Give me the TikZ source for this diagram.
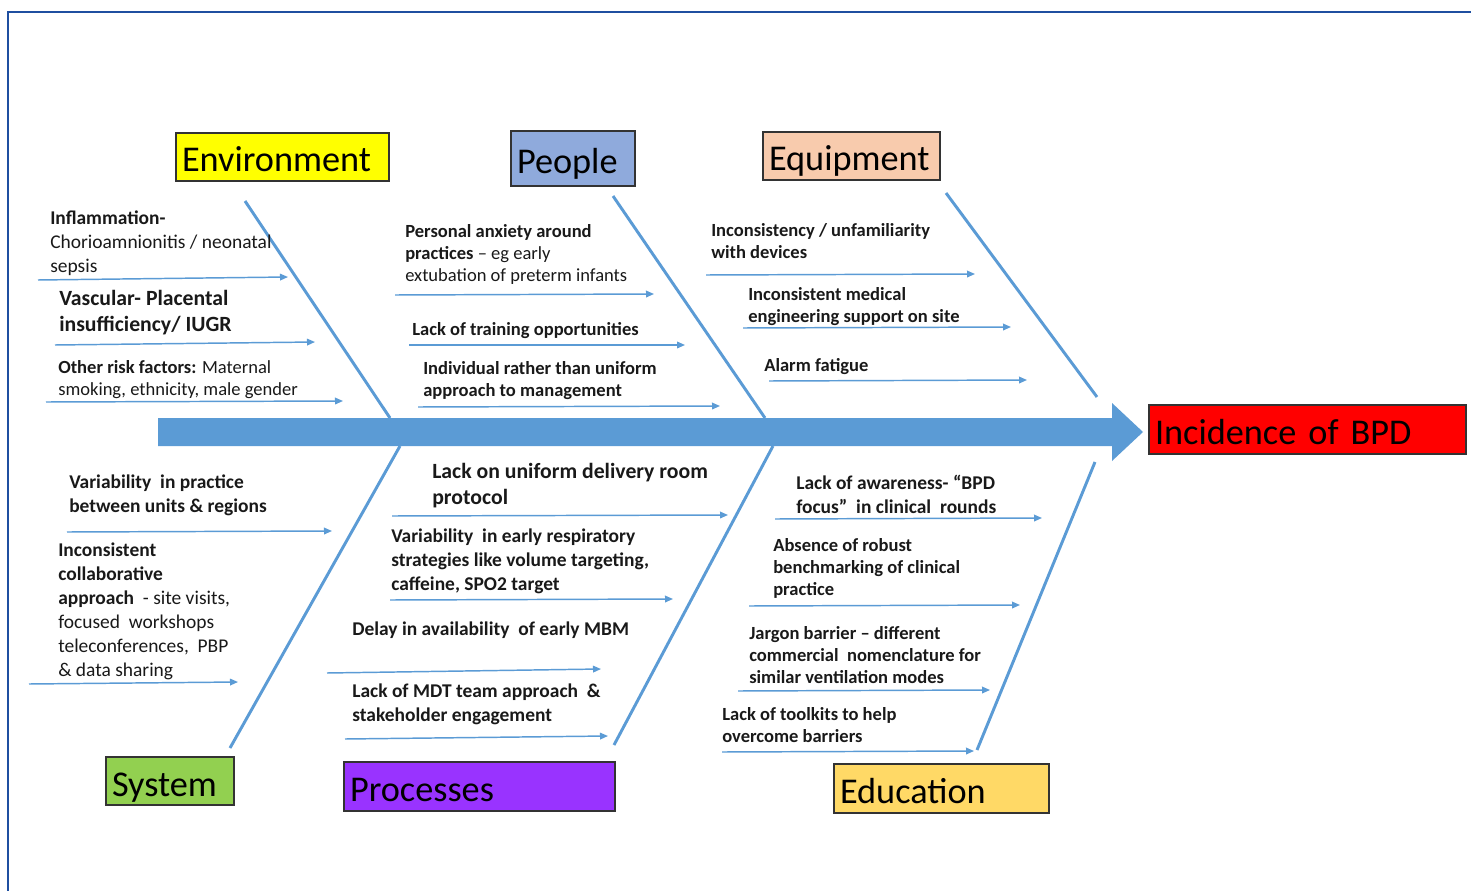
\documentclass[tikz,border=0pt]{standalone}
\usepackage{fontspec}
\setmainfont{Carlito}
\usetikzlibrary{arrows.meta}
\definecolor{spineblue}{HTML}{5B9BD5}
\definecolor{frameblue}{HTML}{1F4FA0}
\definecolor{envyellow}{HTML}{FFFF00}
\definecolor{pplblue}{HTML}{8FAADC}
\definecolor{equipsalmon}{HTML}{F8CBAD}
\definecolor{sysgreen}{HTML}{92D050}
\definecolor{procpurple}{HTML}{9933FF}
\definecolor{edugold}{HTML}{FFD966}
\definecolor{bpdred}{HTML}{FF0000}

\begin{document}
\begin{tikzpicture}[x=0.75pt,y=-0.75pt,
  bone/.style={spineblue,line width=2.2pt},
  twig/.style={spineblue,line width=1.1pt,-{Triangle[length=6pt,width=5pt]}},
  cause/.style={anchor=north west,inner sep=0pt,yshift=-2.25pt,align=left,text=black!90,font=\fontsize{13.9}{16.5}\selectfont},
  boldcause/.style={cause,font=\fontsize{13.9}{16.5}\selectfont\bfseries},
  loosecause/.style={cause,font=\fontsize{14.6}{18}\selectfont},
  looseboldcause/.style={cause,font=\fontsize{14.6}{18}\selectfont\bfseries},
  bigcause/.style={cause,font=\fontsize{16.3}{19.5}\selectfont\bfseries},
  catbox/.style={draw=black!80,line width=1pt,inner sep=4.5pt,align=left,text height=24.75pt,text depth=2.25pt,font=\fontsize{27.2}{30}\selectfont}]
\useasboundingbox (0,0) rectangle (1471,891);
\draw[frameblue,line width=2.2pt] (8,891) -- (8,12) -- (1471,12);

\fill[spineblue] (158,418) -- (1112,418) -- (1112,403) -- (1143,432) -- (1112,461) -- (1112,446) -- (158,446) -- cycle;

\draw[bone] (245,201) -- (390,418);
\draw[bone] (613,196) -- (765,418);
\draw[bone] (946,193) -- (1097,397);
\draw[bone] (400,446) -- (230,748);
\draw[bone] (773,446) -- (614,745);
\draw[bone] (1095,462) -- (977,750);

\node[catbox,fill=envyellow,text width=150.75pt,minimum height=36pt] (env) at (282.5,157) {Environment};
\node[catbox,fill=pplblue,text width=84pt,minimum height=41.25pt] (ppl) at (573,158.5) {People};
\node[catbox,fill=equipsalmon,text width=123.75pt,minimum height=36pt] (equip) at (851.5,156) {Equipment};
\node[catbox,fill=sysgreen,text width=87pt,minimum height=36pt] (sys) at (170,781) {System};
\node[catbox,fill=procpurple,text width=194.25pt,minimum height=36.75pt] (proc) at (479.5,786.5) {Processes};
\node[catbox,fill=edugold,text width=152.25pt,minimum height=36.75pt] (edu) at (941.5,788.5) {Education};
\node[catbox,fill=bpdred,text width=228.75pt,minimum height=36.75pt] (bpd) at (1307.5,429.5) {Incidence of BPD};

\node[loosecause] (env1) at (50,208) {\textbf{Inflammation-}\\Chorioamnionitis / neonatal\\sepsis};
\node[bigcause] (env2) at (59,287) {Vascular- Placental\\insufficiency/ IUGR};
\node[cause] (env3) at (58,357) {\textbf{Other risk factors:} Maternal\\smoking, ethnicity, male gender};

\node[cause] (ppl1) at (405,221) {\textbf{Personal anxiety around}\\\textbf{practices} -- eg early\\extubation of preterm infants};
\node[boldcause] (ppl2) at (412,319) {Lack of training opportunities};
\node[boldcause] (ppl3) at (423,358) {Individual rather than uniform\\approach to management};

\node[boldcause] (equip1) at (711,220) {Inconsistency / unfamiliarity\\with devices};
\node[boldcause] (equip2) at (748,284) {Inconsistent medical\\engineering support on site};
\node[boldcause] (equip3) at (764,355) {Alarm fatigue};

\node[looseboldcause] (sys1) at (69,472) {Variability ~in practice\\between units \& regions};
\node[loosecause] (sys2) at (58,540) {\textbf{Inconsistent}\\\textbf{collaborative}\\\textbf{approach} ~- site visits,\\focused ~workshops\\teleconferences, ~PBP\\\& data sharing};

\node[bigcause] (proc1) at (432,460) {Lack on uniform delivery room\\protocol};
\node[looseboldcause] (proc2) at (391,526) {Variability ~in early respiratory\\strategies like volume targeting,\\caffeine, SPO2 target};
\node[looseboldcause] (proc3) at (352,619) {Delay in availability ~of early MBM};
\node[looseboldcause] (proc4) at (352,681) {Lack of MDT team approach ~\&\\stakeholder engagement};

\node[looseboldcause] (edu1) at (796,472) {Lack of awareness- “BPD\\focus” ~in clinical ~rounds};
\node[boldcause] (edu2) at (773,535) {Absence of robust\\benchmarking of clinical\\practice};
\node[boldcause] (edu3) at (749,623) {Jargon barrier -- different\\commercial ~nomenclature for\\similar ventilation modes};
\node[boldcause] (edu4) at (722,704) {Lack of toolkits to help\\overcome barriers};

\foreach \xa/\ya/\xb/\yb in {38/280/288/277, 55/345/315/342, 46/402/343/401,
  395/295/654/294, 409/345/685/345, 418/407/720/406,
  706/275/975/274, 743/328/1011/327, 769/381/1027/380,
  67/532/332/531, 29/684/238/682,
  392/516/728/515, 390/600/673/599, 327/673/601/669, 345/739/608/736,
  775/519/1042/518, 749/606/1020/605, 738/691/990/690, 722/752/974/751}
  \draw[twig] (\xa,\ya) -- (\xb,\yb);
\end{tikzpicture}
\end{document}
